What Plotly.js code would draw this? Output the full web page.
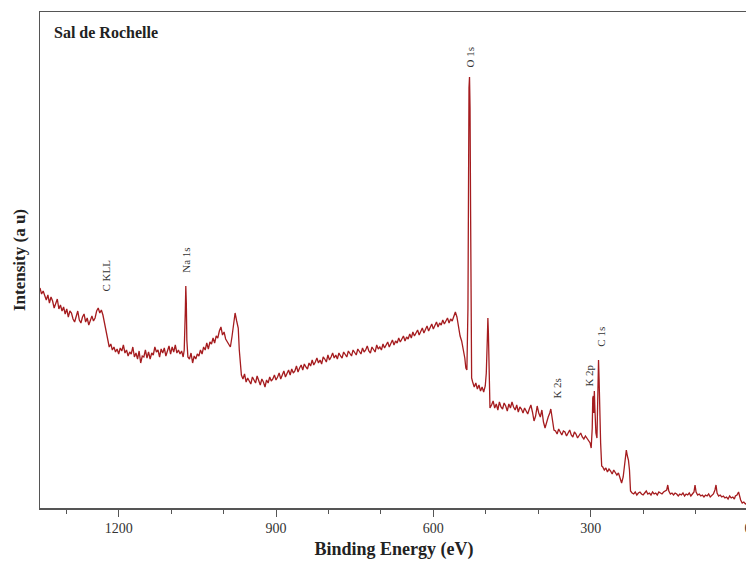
<!DOCTYPE html>
<html>
<head>
<meta charset="utf-8">
<script src="https://cdn.plot.ly/plotly-3.0.1.min.js"></script>
<style>
html, body { margin:0; padding:0; overflow:hidden; background:#fff; }
#chart { width:750px; height:567px; }
</style>
</head>
<body>
<div id="chart"></div>
<script>
// Binding energy (eV)
const energy = [
1350,1347,1344,1341,1338,1335,1332,1329,1326,1323,1320,1317,1314,1311,1308,1305,1302,1299,1296,1293,1290,1287,1284,1281,1278,1275,1272,1269,1266,1263,1260,1257,1254,1251,1248,1245,1242,1239,1236,1233,1230,1227,1224,1221,1218,1215,1212,
1209,1206,1203,1200,1197,1194,1191,1188,1185,1182,1179,1176,1173,1170,1167,1164,1161,1158,1155,1152,1149,1146,1143,1140,1137,1134,1131,1128,1125,1122,1119,1116,1113,1110,1107,1104,1101,1098,1095,1092,1089,1086,1083,1080,1077,
1075,1073,1072,1071,1070,1068,
1065,1062,1059,1056,1053,1050,1047,1044,1041,1038,1035,1032,1029,1026,1023,1020,1017,1014,1011,1008,1005,1002,999,996,993,990,987,984,981,978,975,972,
970,968,966,
963,960,957,954,951,948,945,942,939,936,933,930,927,924,921,918,915,912,909,906,903,900,897,894,891,888,885,882,879,876,873,870,867,864,861,858,855,852,849,846,843,840,837,834,831,828,825,822,819,816,813,810,807,804,801,798,795,792,789,
786,783,780,777,774,771,768,765,762,759,756,753,750,747,744,741,738,735,732,729,726,723,720,717,714,711,708,705,702,699,696,693,690,687,684,681,678,675,672,669,666,663,660,657,654,651,648,645,642,639,636,633,630,627,624,621,618,615,612,609,606,603,600,597,594,591,588,585,582,579,576,573,570,567,564,561,558,555,
552,549,546,543,540,538,536,534,533,532,531,530,529,528,527,525,522,519,516,513,510,507,504,501,499,497,496,495,494,493,492,
489,486,483,480,477,474,471,468,465,462,459,456,453,450,447,444,441,438,435,432,429,426,423,420,417,
414,411,408,405,402,399,396,393,390,387,384,381,378,376,374,372,370,
367,364,361,358,355,352,349,346,343,340,337,334,331,328,325,322,319,316,313,310,307,304,
301,299,297,296,295,294,293,292,290,288,286,285,284,283,281,279,
277,274,271,268,265,262,259,256,253,250,247,244,241,238,
235,233,232,230,228,226,224,
221,218,215,212,209,206,203,200,197,194,191,188,185,182,179,176,173,170,167,164,161,158,
155,153,151,148,145,142,139,136,133,130,127,124,121,118,115,112,109,106,103,101,99,96,93,90,87,84,81,78,75,72,69,66,63,61,59,56,53,50,47,44,41,38,35,32,29,26,24,21,18,16,14,11,8,5,2,0
];
// Intensity (a.u.)
const intensity = [
220,214,217,212,208,213,205,211,207,200,204,209,199,203,197,201,194,199,191,197,195,189,186,193,197,188,185,191,194,186,190,183,188,192,187,190,197,200,195,198,193,184,175,167,161,164,158,
161,156,159,154,160,157,163,155,158,152,156,154,161,151,155,149,157,145,152,151,158,150,156,149,155,153,161,156,158,151,159,155,160,152,157,162,154,161,156,163,155,158,154,157,151,
158,195,222,205,168,151,
149,155,145,152,149,154,152,158,154,161,158,165,159,166,164,170,165,172,170,177,181,173,176,169,166,163,161,171,186,195,187,180,
158,140,133,
129,134,126,130,127,124,131,128,125,132,127,123,129,126,121,128,125,131,127,129,133,128,131,135,129,133,137,131,135,138,133,139,135,137,142,136,140,143,138,144,141,139,145,142,148,143,146,150,145,148,144,151,149,146,153,148,151,155,150,
153,149,155,152,150,156,153,151,157,154,152,158,155,153,159,156,154,160,156,158,162,157,155,161,158,156,163,159,161,158,164,160,163,166,161,165,168,163,167,165,170,166,169,172,167,171,169,174,170,176,172,175,178,173,177,180,175,179,182,177,181,184,179,183,186,181,185,183,188,184,187,190,185,189,187,192,196,191,
180,172,167,160,150,140,138,200,360,420,431,400,300,180,130,126,121,125,119,123,117,121,116,122,135,170,190,175,140,110,100,
103,107,100,104,98,106,101,99,105,102,97,104,100,106,101,98,103,96,101,99,95,100,97,94,99,
103,96,87,92,102,95,91,98,86,80,86,91,95,99,92,82,78,
77,74,79,75,73,77,76,72,75,78,73,71,76,74,70,73,75,71,69,72,70,68,
65,60,80,110,112,95,117,100,75,70,120,148,130,100,65,42,
41,38,40,36,39,37,34,38,35,33,35,30,25,31,
45,55,58,52,48,38,17,
15,14,16,13,15,16,14,13,15,17,14,15,13,16,14,15,13,16,15,14,16,17,
18,23,17,14,15,13,15,14,12,14,13,15,12,14,13,15,12,14,16,23,16,13,14,12,13,11,13,12,14,11,13,14,18,23,15,12,13,11,12,10,11,9,12,10,11,9,12,13,16,12,8,5,6,4,5,4
];
// Peak labels
const peakNames = ["C KLL", "Na 1s", "O 1s", "K 2s", "K 2p", "C 1s"];
const peakEnergy = [1225, 1072, 531, 365, 304, 281];
const peakLabelY = [232, 248, 450, 119, 132, 171];

const serif = "'Liberation Serif', 'Times New Roman', serif";

const trace = {
  x: energy, y: intensity, type: 'scatter', mode: 'lines',
  line: { color: '#a51c1f', width: 1.3 }, hoverinfo: 'skip'
};

const annotations = peakNames.map((t, i) => ({
  x: peakEnergy[i], y: peakLabelY[i], xref: 'x', yref: 'y',
  text: t, showarrow: false, textangle: -90,
  font: { family: serif, size: 11, color: '#333' },
  xanchor: 'center', yanchor: 'middle'
}));
annotations.push({
  x: 0.017, y: 0.958, xref: 'paper', yref: 'paper',
  text: '<b>Sal de Rochelle</b>', showarrow: false,
  xanchor: 'left', yanchor: 'middle',
  font: { family: serif, size: 16, color: '#222' }
});

const layout = {
  width: 750, height: 567,
  margin: { l: 40, r: 2, t: 12, b: 59 },
  paper_bgcolor: '#fff', plot_bgcolor: '#fff',
  showlegend: false,
  xaxis: {
    range: [1350, 0], showgrid: false, zeroline: false,
    showline: true, linecolor: '#555', linewidth: 1.5, mirror: true,
    ticks: 'outside', ticklen: 7, tickcolor: '#555', tickwidth: 1,
    tickvals: [1200, 900, 600, 300, 0],
    ticktext: ['1200', '900', '600', '300', '0'],
    ticklabeloverflow: 'allow',
    minor: { tickvals: [1300, 1100, 1000, 800, 700, 500, 400, 200, 100], ticks: 'outside', ticklen: 4, tickcolor: '#555', showgrid: false },
    tickfont: { family: serif, size: 14, color: '#333' },
    title: { text: '<b>Binding Energy (eV)</b>', font: { family: serif, size: 18, color: '#222' }, standoff: 7 }
  },
  yaxis: {
    range: [0, 496], showgrid: false, zeroline: false,
    showline: true, linecolor: '#555', linewidth: 1.5, mirror: true,
    ticks: '', showticklabels: false,
    title: { text: '<b>Intensity (a u)</b>', font: { family: serif, size: 17, color: '#222' }, standoff: 8 }
  },
  annotations: annotations
};

Plotly.newPlot('chart', [trace], layout, { displayModeBar: false, staticPlot: true });
</script>
</body>
</html>
